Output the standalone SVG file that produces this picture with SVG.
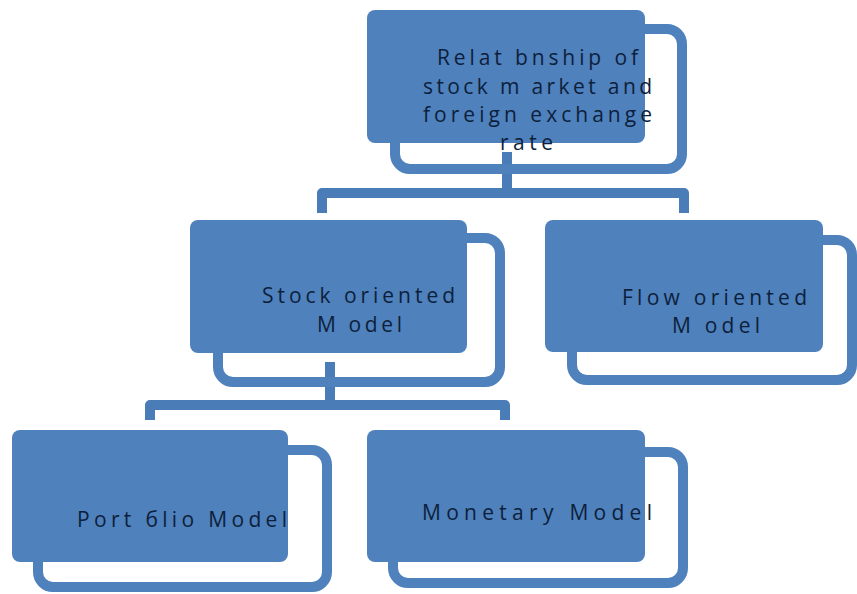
<svg xmlns="http://www.w3.org/2000/svg" width="857" height="594" viewBox="0 0 857 594">
<style>
.frame{fill:none;stroke:#4f81bd;stroke-width:10}
.box{fill:#4f81bd}
.conn{fill:none;stroke:#4a7cb8;stroke-width:10;stroke-linejoin:round}
text{font-family:"Open Sans","Liberation Sans",sans-serif;font-size:21px;fill:#0d1f3b}
</style>
<rect width="857" height="594" fill="#ffffff"/>
<g id="connectors">
<path class="conn" d="M507,152 V193"/>
<path class="conn" d="M322,213 V193 H684 V213"/>
<path class="conn" d="M330,362 V405"/>
<path class="conn" d="M150,420 V405 H505 V420"/>
</g>
<g id="node-relationship">
<rect class="frame" x="395" y="29" width="287" height="140" rx="15"/>
<rect class="box" x="367" y="10" width="278" height="133" rx="8"/>
<text x="437" y="65" textLength="201" lengthAdjust="spacing">Relat bnship of</text>
<text x="423" y="94" textLength="229" lengthAdjust="spacing">stock m arket and</text>
<text x="423" y="122" textLength="229" lengthAdjust="spacing">foreign exchange</text>
<text x="500" y="150" textLength="53" lengthAdjust="spacing">rate</text>
</g>
<g id="node-stock">
<rect class="frame" x="218" y="238" width="282" height="144" rx="15"/>
<rect class="box" x="190" y="220" width="277" height="133" rx="8"/>
<text x="262" y="303" textLength="193" lengthAdjust="spacing">Stock oriented</text>
<text x="317" y="332" textLength="85" lengthAdjust="spacing">M odel</text>
</g>
<g id="node-flow">
<rect class="frame" x="572" y="240" width="280" height="140" rx="15"/>
<rect class="box" x="545" y="220" width="278" height="132" rx="8"/>
<text x="622" y="305" textLength="185" lengthAdjust="spacing">Flow oriented</text>
<text x="672" y="333" textLength="88" lengthAdjust="spacing">M odel</text>
</g>
<g id="node-portfolio">
<rect class="frame" x="38" y="450" width="289" height="137" rx="15"/>
<rect class="box" x="12" y="430" width="276" height="132" rx="8"/>
<text x="77" y="527" textLength="210" lengthAdjust="spacing">Port бlio Model</text>
</g>
<g id="node-monetary">
<rect class="frame" x="393" y="452" width="290" height="131" rx="15"/>
<rect class="box" x="367" y="430" width="278" height="132" rx="8"/>
<text x="422" y="520" textLength="230" lengthAdjust="spacing">Monetary Model</text>
</g>
</svg>
